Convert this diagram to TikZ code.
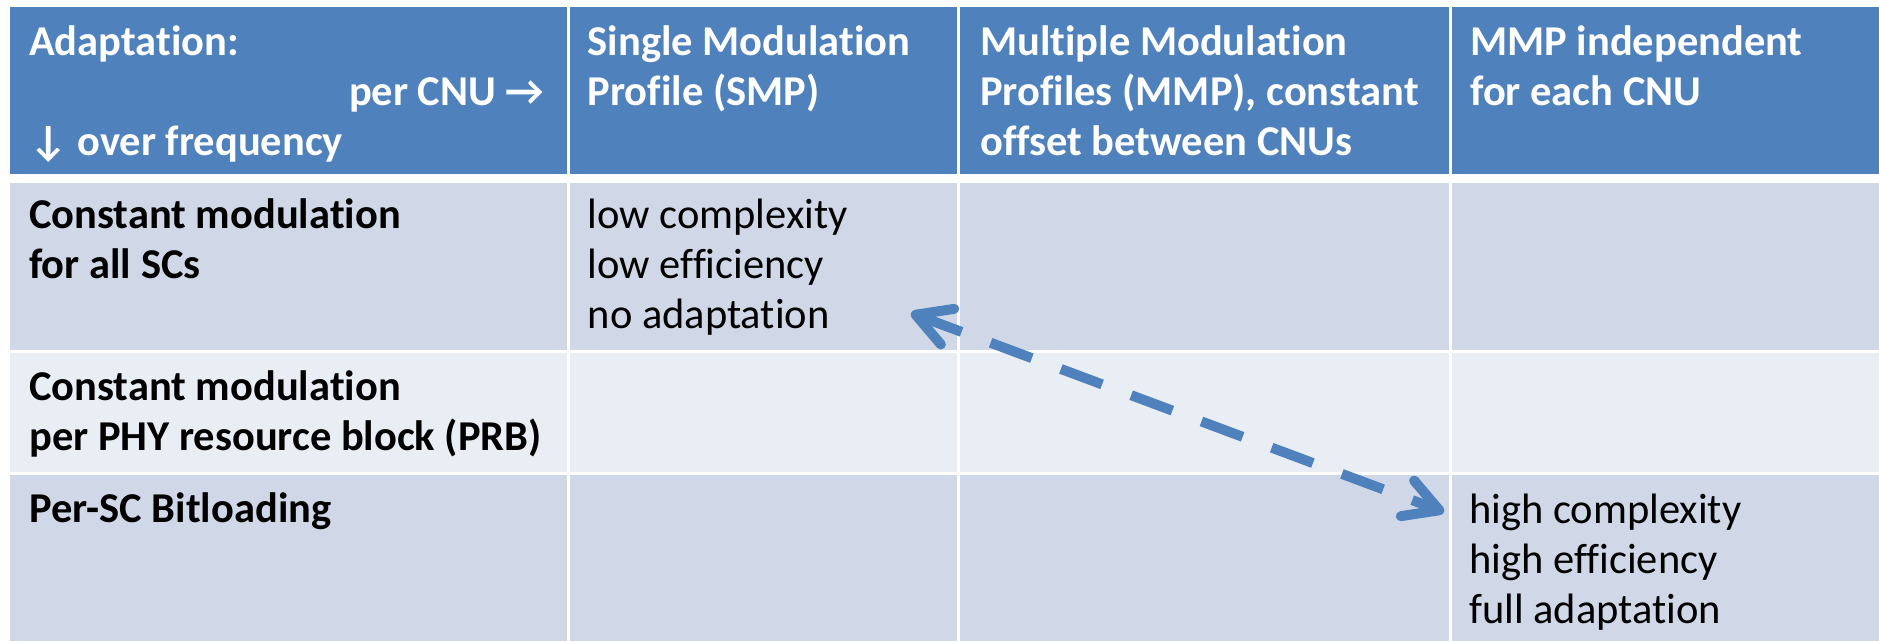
\documentclass[tikz,border=0pt]{standalone}
\usepackage{fontspec}
\setmainfont{Carlito}[Ligatures=NoCommon]
\usetikzlibrary{arrows.meta, positioning, calc}
\definecolor{hdblue}{HTML}{4F81BD}
\definecolor{rowdark}{HTML}{D0D8E8}
\definecolor{rowlight}{HTML}{E9EDF4}
\tikzset{barb/.tip={Straight Barb[length=34pt, width=38pt, line width=10pt, round]}}

\begin{document}
\begin{tikzpicture}[x=1pt, y=-1pt, font=\fontsize{42.5}{50}\selectfont,
  cell/.style={anchor=north west, inner sep=0pt, outer sep=0pt, draw=none},
  txt/.style={anchor=base west, inner sep=0pt, align=left},
  hdtxt/.style={txt, text=white, font=\fontsize{42.5}{50}\selectfont\bfseries},
  rowtxt/.style={txt, font=\fontsize{42.5}{50}\selectfont\bfseries}]
  \useasboundingbox (0,0) rectangle (1879,641);

  % cells: header row, then three body rows
  \foreach \c/\x/\w in {1/10/556.5, 2/569.5/387.5, 3/960/489, 4/1452/427} {
    \node[cell, fill=hdblue, minimum width=\w pt, minimum height=167pt] (hd\c) at (\x,7) {};
    \node[cell, fill=rowdark, minimum width=\w pt, minimum height=167pt] (ra\c) at (\x,183) {};
    \node[cell, fill=rowlight, minimum width=\w pt, minimum height=119pt] (rb\c) at (\x,353) {};
    \node[cell, fill=rowdark, minimum width=\w pt, minimum height=166pt] (rc\c) at (\x,475) {};
  }

  % header texts (base = last line)
  \node[hdtxt] (adapt) at ($(hd1.north west)+(19,48)$) {Adaptation:};
  \node[hdtxt, anchor=base east] (percnu) at ($(hd1.north east)+(-22,98)$) {per CNU →};
  \node[hdtxt] (overfreq) at ($(hd1.north west)+(19,148)$) {↓ over frequency};
  \node[hdtxt] (smp) at ($(hd2.north west)+(18,98)$) {Single Modulation\\Profile (SMP)};
  \node[hdtxt] (mmp) at ($(hd3.north west)+(20,148)$) {Multiple Modulation\\Profiles (MMP), constant\\offset between CNUs};
  \node[hdtxt] (mmpind) at ($(hd4.north west)+(18,98)$) {MMP independent\\for each CNU};

  % row labels
  \node[rowtxt] (allsc) at ($(ra1.north west)+(19,95)$) {Constant modulation\\for all SCs};
  \node[rowtxt] (perprb) at ($(rb1.north west)+(19,97)$) {Constant modulation\\per PHY resource block (PRB)};
  \node[rowtxt] (bitload) at ($(rc1.north west)+(19,47)$) {Per-SC Bitloading};

  % the two extremes
  \node[txt] (lowend) at ($(ra2.north west)+(18,145)$) {low complexity\\low efficiency\\no adaptation};
  \node[txt] (highend) at ($(rc4.north west)+(17,148)$) {high complexity\\high efficiency\\full adaptation};

  % trade-off arrow
  \coordinate (lowtip) at ($(ra2.north east)+(-46,130)$);
  \coordinate (hightip) at ($(rc4.north west)+(-8,37)$);
  \draw[hdblue, line width=10pt, dash pattern=on 44pt off 31pt, barb-barb]
    (lowtip) -- (hightip);
\end{tikzpicture}
\end{document}
